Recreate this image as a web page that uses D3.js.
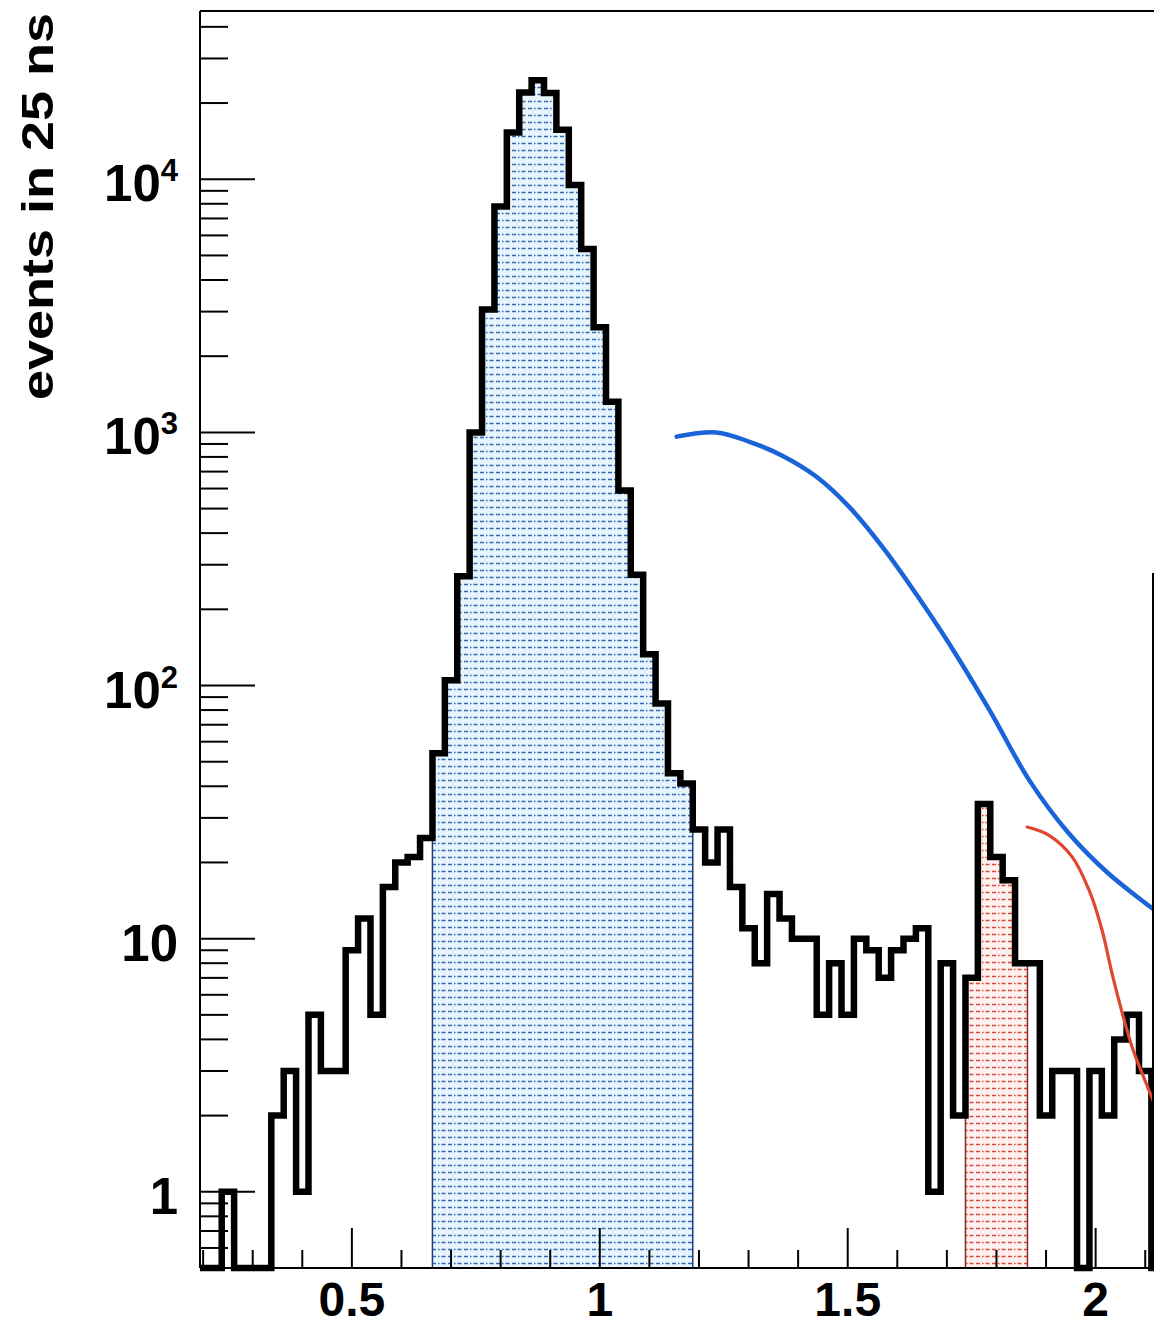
<!DOCTYPE html>
<html><head><meta charset="utf-8">
<script src="https://cdn.jsdelivr.net/npm/d3@7"></script>
<style>body{margin:0;background:#fff}svg{display:block}</style>
</head><body>
<svg id="c" width="1154" height="1328"></svg>
<script>
// ---- data ----
const binFirstCenter = 0.2;
const binWidth = 0.025;
const counts = [0,0,1,0,0,0,2,3,1,5,3,3,9,12,5,16,20,21,25,54,
  105,270,1000,3060,7800,15300,22000,24600,21900,15700,9500,5300,2600,1320,590,274,133,85,45,41,
  27,20,27,16,11,8,15,12,10,10,5,8,5,10,9,7,9,10,11,1,8,2,7,34,21,17,8,8,2,3,3,0,3,2,4,5,3];
const blueWindow = [0.6625, 1.1875];
const redWindow = [1.7375, 1.8625];
const blueCurveX = [1.155,1.235,1.302,1.368,1.437,1.503,1.570,1.638,1.705,1.786,1.866,1.947,2.027,2.114];
const blueCurveY = [962,1000,918,809,668,508,353,230,146,80,42.3,25.9,18.0,13.2];
const redCurveX = [1.862,1.906,1.953,1.987,2.013,2.033,2.054,2.074,2.094,2.116];
const redCurveY = [27.6,25.6,21.0,15.5,10.8,7.3,5.06,3.71,2.93,2.29];
const yMajorTicks = [1,10,100,1000,10000];
const yTickLabels = [["1",""],["10",""],["10","2"],["10","3"],["10","4"]];
const xMajorTicks = [0.5,1,1.5,2];
const xTickLabels = ["0.5","1","1.5","2"];
const yTitle = "events in 25 ns";

// ---- layout ----
const L = 200, R = 1153, T = 11, B = 1268;
const svg = d3.select("#c");
const x = d3.scaleLinear().domain([0.1937, 2.1157]).range([L, R]);
const y = d3.scaleLog().domain([0.5, 46200]).range([B, T]);
const ymin = y.domain()[0];
const font = "'Liberation Sans', Arial, Helvetica, sans-serif";

const bins = counts.map((c,i)=>({x0: binFirstCenter + (i-0.5)*binWidth, x1: binFirstCenter + (i+0.5)*binWidth, v: c}));

const defs = svg.append("defs");
defs.append("clipPath").attr("id","plot").append("rect")
  .attr("x", L).attr("y", T).attr("width", 1154-L).attr("height", B-T+8);
function makePattern(id, bg, fg){
  const p = defs.append("pattern").attr("id", id).attr("patternUnits","userSpaceOnUse")
    .attr("width", 16).attr("height", 7);
  p.append("rect").attr("width",16).attr("height",7).attr("fill",bg);
  p.append("line").attr("x1",0).attr("x2",16).attr("y1",3.5).attr("y2",3.5)
    .attr("stroke",fg).attr("stroke-width",1.7).attr("stroke-dasharray","4,2,1.5,2,4,2.5");
}
makePattern("pBlue", "#e6f5fd", "#3567b5");
makePattern("pRed", "#fdf0ee", "#d8493a");

const g = svg.append("g").attr("clip-path","url(#plot)");

function stepPoints(bs){
  const pts = [];
  bs.forEach(b=>{ const v = Math.max(b.v, ymin); pts.push([b.x0, v]); pts.push([b.x1, v]); });
  return pts;
}
const area = d3.area().x(d=>x(d[0])).y0(y(ymin)).y1(d=>y(d[1]));
function fillWindow(win, pat, edge){
  const bs = bins.filter(b=> b.x0 >= win[0]-1e-9 && b.x1 <= win[1]+1e-9);
  g.append("path").attr("d", area(stepPoints(bs))).attr("fill", `url(#${pat})`)
    .attr("stroke", edge).attr("stroke-width", 1.5);
}
fillWindow(blueWindow, "pBlue", "#1d3f78");
fillWindow(redWindow, "pRed", "#8a2a22");

// histogram outline
const pts = stepPoints(bins);
pts.unshift([bins[0].x0, ymin]);
pts.push([bins[bins.length-1].x1, ymin]);
g.append("path").attr("d", d3.line().x(d=>x(d[0])).y(d=>y(d[1]))(pts))
  .attr("fill","none").attr("stroke","#000").attr("stroke-width",6.5)
  .attr("stroke-linejoin","miter").attr("stroke-linecap","square");

// curves
const curveLine = d3.line().x(d=>x(d[0])).y(d=>y(d[1])).curve(d3.curveCatmullRom.alpha(0.5));
g.append("path").attr("d", curveLine(blueCurveX.map((v,i)=>[v, blueCurveY[i]])))
  .attr("fill","none").attr("stroke","#1a63d8").attr("stroke-width",4.5).attr("stroke-linecap","round");
g.append("path").attr("d", curveLine(redCurveX.map((v,i)=>[v, redCurveY[i]])))
  .attr("fill","none").attr("stroke","#e0472f").attr("stroke-width",3.2).attr("stroke-linecap","round");

// axes frame
const ax = svg.append("g").attr("stroke","#000").attr("stroke-width",2);
ax.append("line").attr("x1",L).attr("x2",L).attr("y1",T).attr("y2",B);
ax.append("line").attr("x1",L).attr("x2",1154).attr("y1",B).attr("y2",B);
ax.append("line").attr("x1",L).attr("x2",1154).attr("y1",T).attr("y2",T);
ax.append("line").attr("x1",R).attr("x2",R).attr("y1",573).attr("y2",B);

// x ticks
const xt = x.ticks(20).filter(t=>t>x.domain()[0] && t<x.domain()[1]);
ax.selectAll(".xt").data(xt).join("line")
  .attr("x1",d=>x(d)).attr("x2",d=>x(d)).attr("y1",B)
  .attr("y2",d=> xMajorTicks.some(m=>Math.abs(m-d)<1e-6) ? B-40 : B-18);
// y ticks
const yt = y.ticks().filter(t=>t>=ymin && t<=y.domain()[1]);
ax.selectAll(".yt").data(yt).join("line")
  .attr("y1",d=>y(d)).attr("y2",d=>y(d)).attr("x1",L)
  .attr("x2",d=> yMajorTicks.includes(d) ? L+55 : L+28);

// labels
svg.selectAll(".xl").data(xMajorTicks).join("text")
  .attr("x",d=>x(d)).attr("y",1316).attr("text-anchor","middle")
  .attr("font-family",font).attr("font-weight","bold").attr("font-size",48)
  .text((d,i)=>xTickLabels[i]);
const yl = svg.selectAll(".yl").data(yMajorTicks).join("text")
  .attr("x",178).attr("y",d=>y(d)+22).attr("text-anchor","end")
  .attr("font-family",font).attr("font-weight","bold").attr("font-size",51);
yl.append("tspan").text((d,i)=>yTickLabels[i][0]);
yl.append("tspan").attr("font-size",31).attr("dy",-20).text((d,i)=>yTickLabels[i][1]);

svg.append("text").attr("transform","translate(53,13) rotate(-90)")
  .attr("text-anchor","end").attr("font-family",font).attr("font-weight","bold")
  .attr("font-size",44).attr("textLength",387).attr("lengthAdjust","spacingAndGlyphs")
  .text(yTitle);
</script>
</body></html>
